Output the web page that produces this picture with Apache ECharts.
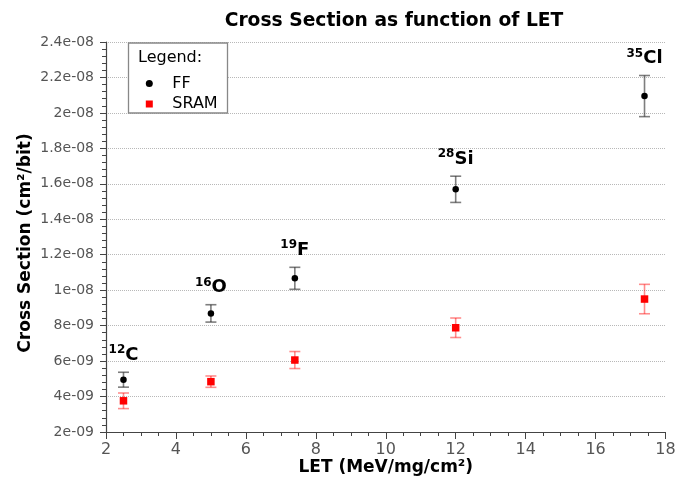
<!DOCTYPE html>
<html>
<head>
<meta charset="utf-8">
<script src="https://cdn.jsdelivr.net/npm/echarts@6/dist/echarts.min.js"></script>
<style>
html,body{margin:0;padding:0;background:#fff;}
#chart{width:684px;height:477px;}
</style>
</head>
<body>
<div id="chart"></div>
<script>
// ---- data ----
const letValues = [2.5, 5, 7.4, 12, 17.4];
const ionMass = ['12', '16', '19', '28', '35'];
const ionSymbol = ['C', 'O', 'F', 'Si', 'Cl'];
const ffValues = [4.95e-9, 8.69e-9, 10.67e-9, 15.69e-9, 20.95e-9];
const ffErrors = [0.42e-9, 0.49e-9, 0.62e-9, 0.74e-9, 1.16e-9];
const sramValues = [3.76e-9, 4.84e-9, 6.06e-9, 7.88e-9, 9.5e-9];
const sramErrors = [0.44e-9, 0.32e-9, 0.48e-9, 0.55e-9, 0.83e-9];
const yTickLabels = ['2e-09', '4e-09', '6e-09', '8e-09', '1e-08', '1.2e-08', '1.4e-08', '1.6e-08', '1.8e-08', '2e-08', '2.2e-08', '2.4e-08'];

const FONT = 'DejaVu Sans';

const ffPoints = letValues.map((x, i) => [x, ffValues[i]]);
const sramPoints = letValues.map((x, i) => [x, sramValues[i]]);
const ffErrData = letValues.map((x, i) => [x, ffValues[i] - ffErrors[i], ffValues[i] + ffErrors[i]]);
const sramErrData = letValues.map((x, i) => [x, sramValues[i] - sramErrors[i], sramValues[i] + sramErrors[i]]);

function errRenderer(color) {
  return function (params, api) {
    const x = api.value(0), lo = api.value(1), hi = api.value(2);
    const p1 = api.coord([x, hi]);
    const p2 = api.coord([x, lo]);
    const w = 5.5;
    const st = { stroke: color, lineWidth: 1.6 };
    return {
      type: 'group',
      children: [
        { type: 'line', shape: { x1: p1[0], y1: p1[1], x2: p2[0], y2: p2[1] }, style: st },
        { type: 'line', shape: { x1: p1[0] - w, y1: p1[1], x2: p1[0] + w, y2: p1[1] }, style: st },
        { type: 'line', shape: { x1: p2[0] - w, y1: p2[1], x2: p2[0] + w, y2: p2[1] }, style: st }
      ]
    };
  };
}

const chart = echarts.init(document.getElementById('chart'), null, { renderer: 'canvas' });

const option = {
  backgroundColor: '#ffffff',
  animation: false,
  title: {
    text: 'Cross Section as function of LET',
    left: 389,
    textAlign: 'center',
    top: 7,
    textStyle: { fontFamily: FONT, fontSize: 18.7, fontWeight: 'bold', color: '#000' }
  },
  grid: { left: 106, right: 18.5, top: 42, bottom: 45, containLabel: false, outerBoundsMode: 'none' },
  xAxis: {
    type: 'value',
    min: 2, max: 18, interval: 2,
    name: 'LET (MeV/mg/cm²)',
    nameLocation: 'middle',
    nameGap: 27,
    nameMoveOverlap: false,
    nameTextStyle: { fontFamily: FONT, fontSize: 17, fontWeight: 'bold', color: '#000' },
    axisLine: { show: true, onZero: false, lineStyle: { color: '#444', width: 1.2 } },
    axisTick: { show: true, length: 7, lineStyle: { color: '#444' } },
    minorTick: { show: true, splitNumber: 4, length: 4, lineStyle: { color: '#444' } },
    axisLabel: { fontFamily: FONT, fontSize: 16, color: '#555', margin: 10 },
    splitLine: { show: false }
  },
  yAxis: {
    type: 'value',
    min: 2e-9, max: 2.4e-8, interval: 2e-9,
    name: 'Cross Section (cm²/bit)',
    nameLocation: 'middle',
    nameGap: 72,
    nameMoveOverlap: false,
    nameTextStyle: { fontFamily: FONT, fontSize: 17, fontWeight: 'bold', color: '#000', padding: [0, 12, 0, 0] },
    axisLine: { show: true, onZero: false, lineStyle: { color: '#444', width: 1.2 } },
    axisTick: { show: true, length: 6, lineStyle: { color: '#444' } },
    minorTick: { show: true, splitNumber: 5, length: 4, lineStyle: { color: '#444' } },
    axisLabel: {
      fontFamily: FONT, fontSize: 14, color: '#555', margin: 12,
      formatter: function (v) {
        const idx = Math.round(v / 2e-9) - 1;
        return yTickLabels[idx] !== undefined ? yTickLabels[idx] : '';
      }
    },
    splitLine: { show: true, lineStyle: { color: '#b8b8b8', type: 'dotted', width: 1 } }
  },
  legend: {
    data: ['FF', 'SRAM'],
    orient: 'vertical',
    left: 140.8,
    top: 70.5,
    itemWidth: 7,
    itemHeight: 7,
    itemGap: 4.5,
    z: 10,
    textStyle: { fontFamily: FONT, fontSize: 16, color: '#000', lineHeight: 16, padding: [0, 0, 0, 14.5] }
  },
  graphic: [
    {
      type: 'rect', z: 5, zlevel: 0,
      shape: { x: 128.5, y: 43, width: 99, height: 70 },
      style: { fill: '#fff', stroke: '#888', lineWidth: 1.3 }
    },
    {
      type: 'text', z: 6,
      x: 138, y: 57.5,
      style: { text: 'Legend:', fontFamily: FONT, fontSize: 16, fill: '#000', verticalAlign: 'middle', align: 'left' }
    }
  ],
  series: [
    {
      name: 'FF err', type: 'custom', renderItem: errRenderer('rgba(40,40,40,0.6)'),
      data: ffErrData, encode: { x: 0, y: [1, 2] }, z: 2, silent: true
    },
    {
      name: 'SRAM err', type: 'custom', renderItem: errRenderer('rgba(255,0,0,0.45)'),
      data: sramErrData, encode: { x: 0, y: [1, 2] }, z: 2, silent: true
    },
    {
      name: 'FF', type: 'scatter', data: ffPoints, symbol: 'circle', symbolSize: 6.5,
      itemStyle: { color: '#000', opacity: 1 }, z: 3
    },
    {
      name: 'SRAM', type: 'scatter', data: sramPoints, symbol: 'rect', symbolSize: 7.5,
      itemStyle: { color: '#ff0000', opacity: 1 }, z: 3
    },
    {
      name: 'Ions', type: 'custom', z: 4, silent: true,
      data: ffErrData,
      encode: { x: 0, y: [1, 2] },
      renderItem: function (params, api) {
        const p = api.coord([api.value(0), api.value(2)]);
        const i = params.dataIndex;
        return {
          type: 'text',
          x: p[0], y: p[1] - 8,
          style: {
            text: '{m|' + ionMass[i] + '}{s|' + ionSymbol[i] + '}',
            align: 'center',
            verticalAlign: 'bottom',
            rich: {
              m: { fontFamily: FONT, fontSize: 12, fontWeight: 'bold', fill: '#000', color: '#000', lineHeight: 20, verticalAlign: 'top' },
              s: { fontFamily: FONT, fontSize: 18, fontWeight: 'bold', fill: '#000', color: '#000', lineHeight: 20, verticalAlign: 'bottom' }
            }
          }
        };
      }
    }
  ]
};

chart.setOption(option);
</script>
</body>
</html>
